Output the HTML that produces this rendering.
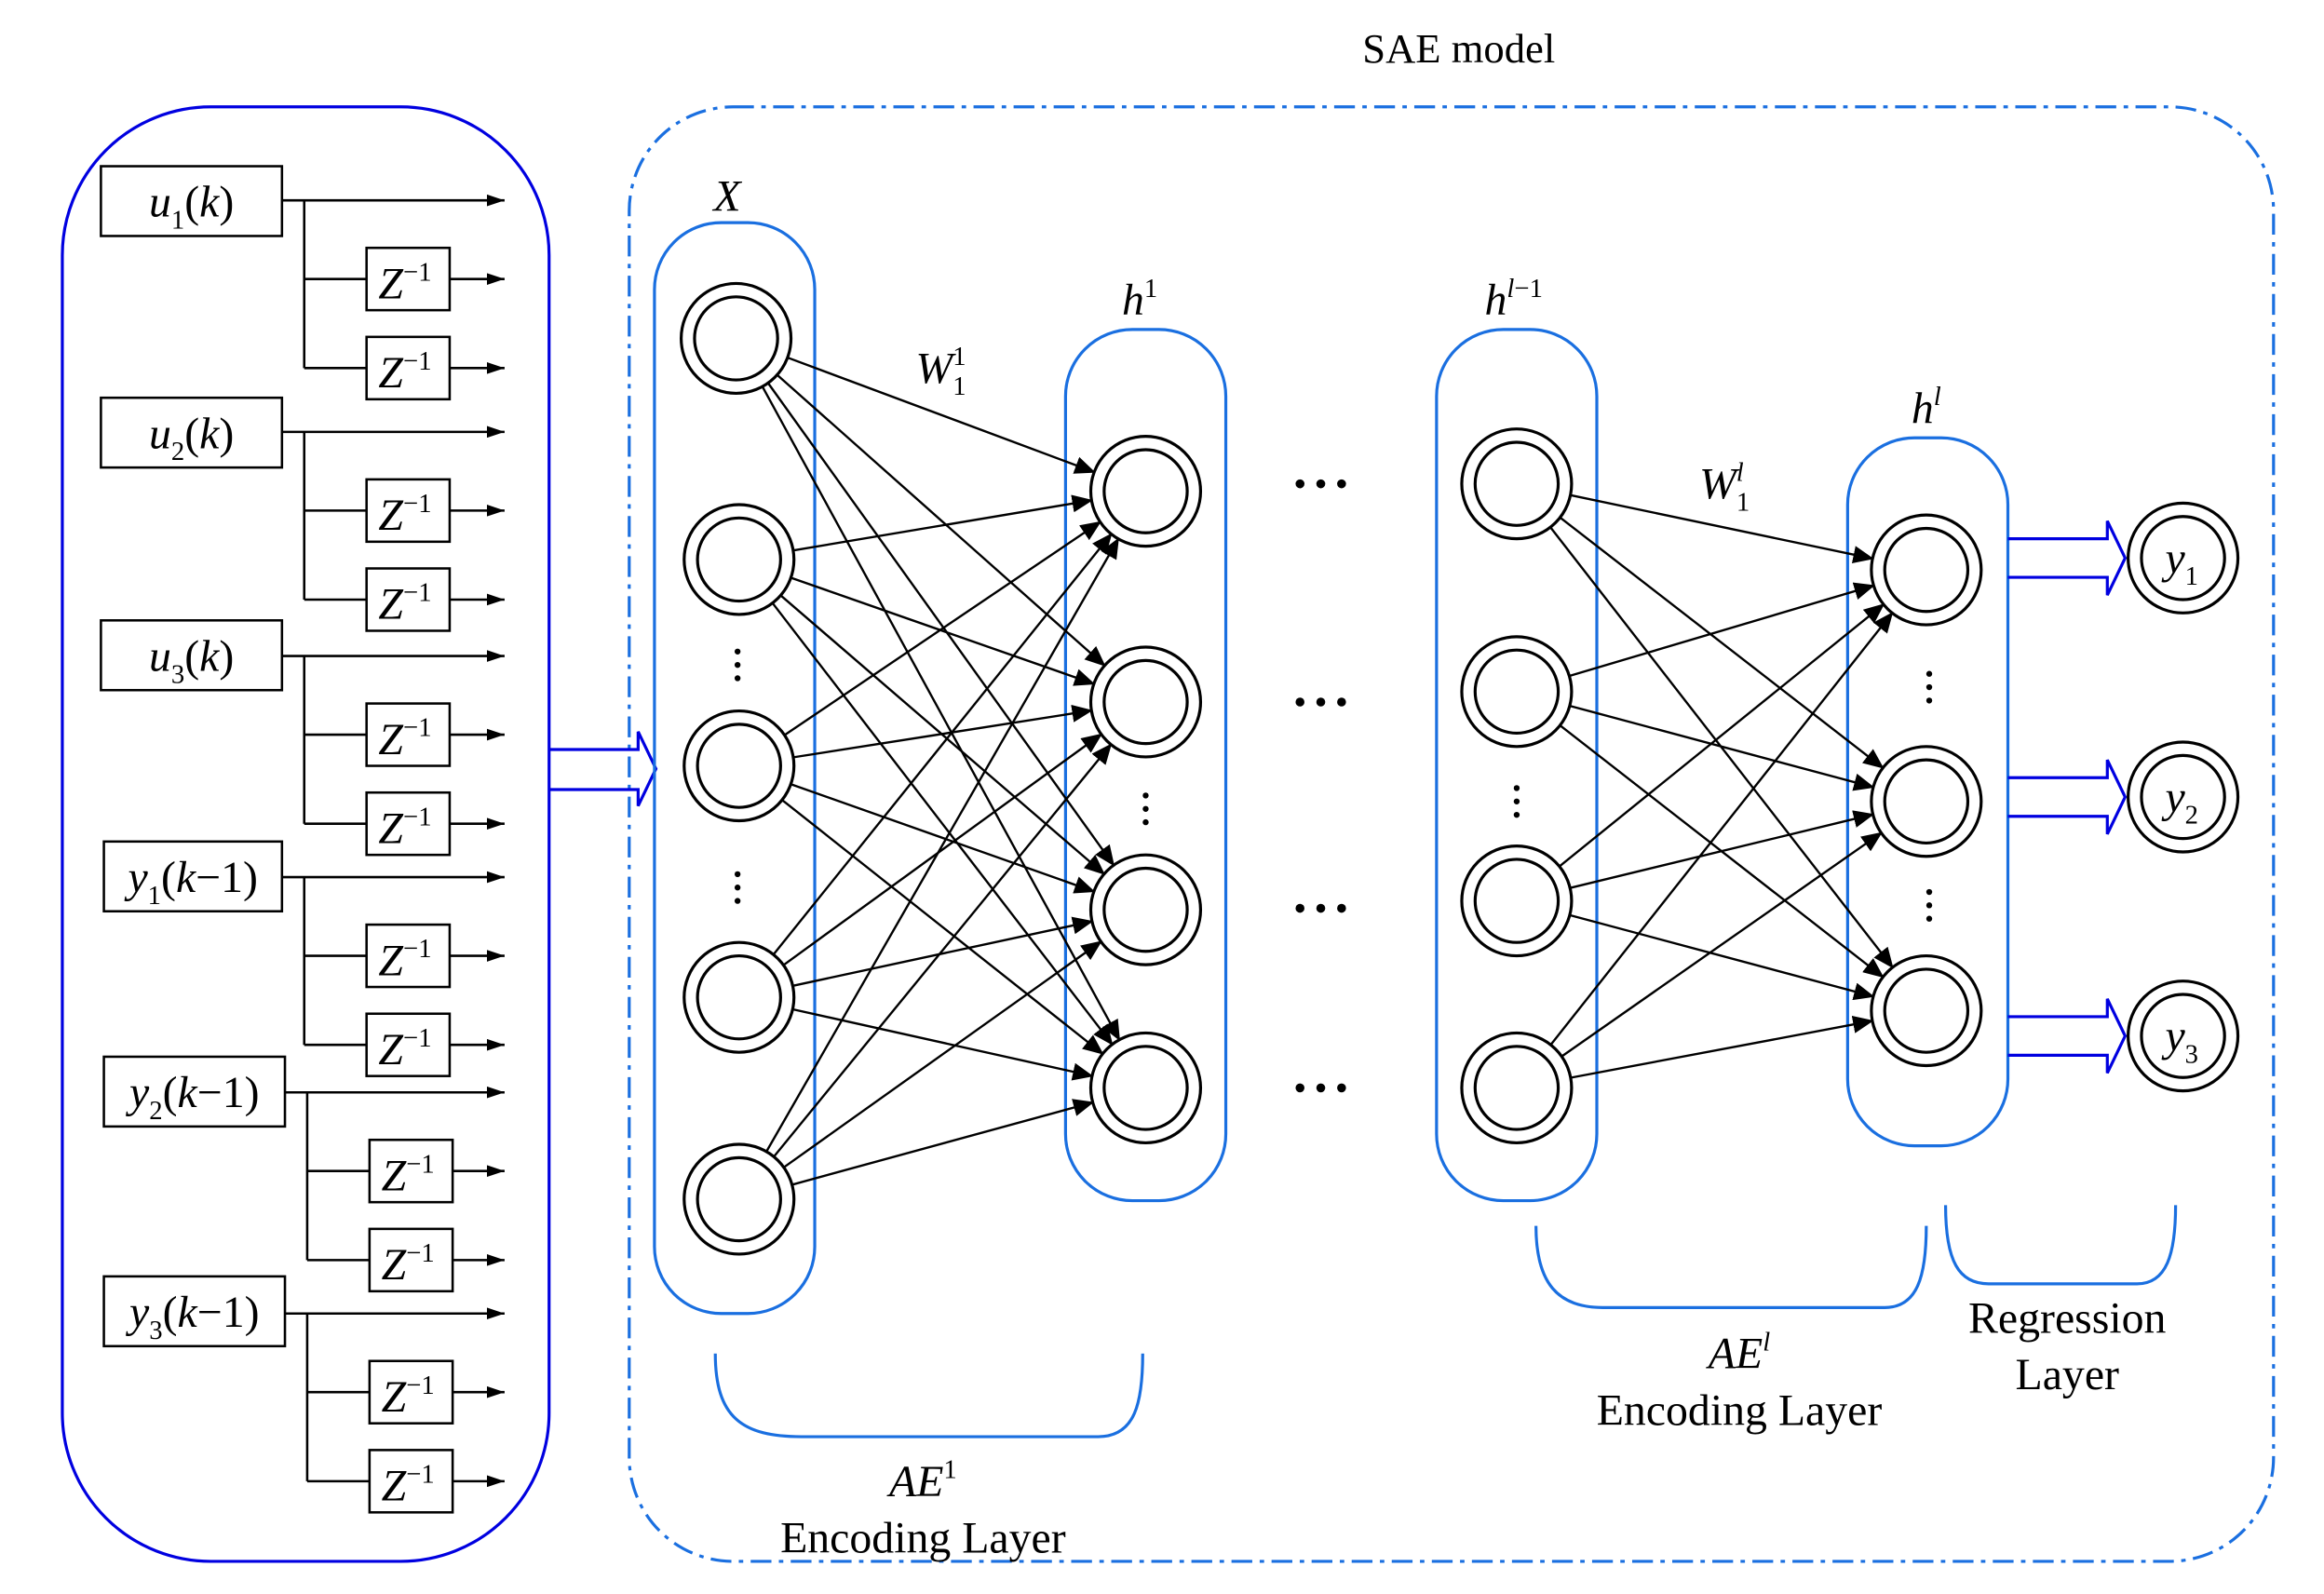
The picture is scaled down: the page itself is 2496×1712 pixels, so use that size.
<!DOCTYPE html>
<html><head><meta charset="utf-8"><style>
html,body{margin:0;padding:0;background:#fff;}
svg{display:block;}
text{font-family:"Liberation Serif",serif;fill:#000;}
</style></head><body>
<svg id="s" width="2496" height="1712" viewBox="0 0 1566 1074" preserveAspectRatio="none" xmlns="http://www.w3.org/2000/svg">
<defs>
<marker id="a" markerWidth="12" markerHeight="8" refX="12" refY="4" orient="auto" markerUnits="userSpaceOnUse"><path d="M0,0 L12,4 L0,8 Z" fill="#000"/></marker>
<marker id="b" markerWidth="14" markerHeight="12" refX="13" refY="6" orient="auto" markerUnits="userSpaceOnUse"><path d="M0,0 L14,6 L0,12 Z" fill="#000"/></marker>
</defs>
<rect x="0" y="0" width="1566" height="1074" fill="#fff"/>
<text x="983" y="42" font-size="28" text-anchor="middle">SAE model</text>
<rect x="42" y="72" width="328" height="980" rx="100" fill="none" stroke="#0000e0" stroke-width="2"/>
<g id="inputs" stroke="#000" stroke-width="1.6" fill="none"></g>
<rect x="424" y="72" width="1108" height="980" rx="70" fill="none" stroke="#1a6fe0" stroke-width="2" stroke-dasharray="14 5 3 5"/>
<path d="M370,505 L430,505 L430,493 L442,518 L430,543 L430,532 L370,532" fill="none" stroke="#0000e0" stroke-width="2"/>
<g fill="none" stroke="#1a6fe0" stroke-width="2">
<rect x="441" y="150" width="108" height="735" rx="45"/>
<rect x="718" y="222" width="108" height="587" rx="45"/>
<rect x="968" y="222" width="108" height="587" rx="45"/>
<rect x="1245" y="295" width="108" height="477" rx="45"/>
<path d="M482,912 C482,955 500,968 540,968 L740,968 C765,968 770,945 770,912"/>
<path d="M1035,826 C1035,865 1050,881 1080,881 L1270,881 C1292,881 1298,860 1298,826"/>
<path d="M1311,812 C1311,850 1320,865 1340,865 L1440,865 C1460,865 1466,845 1466,812"/>
</g>
<g fill="none" stroke="#0000e0" stroke-width="2">
<path d="M1353,363 L1420,363 L1420,351 L1432,376 L1420,401 L1420,389 L1353,389"/>
<path d="M1353,524 L1420,524 L1420,512 L1432,537 L1420,562 L1420,550 L1353,550"/>
<path d="M1353,685 L1420,685 L1420,673 L1432,698 L1420,723 L1420,711 L1353,711"/>
</g>
<g id="net" stroke="#000" stroke-width="1.5" fill="none"></g>
<g id="nodes" stroke="#000" stroke-width="2" fill="#fff"></g>
<g font-size="30" text-anchor="middle">
<text x="622" y="1046">Encoding Layer</text>
<text x="1172" y="960">Encoding Layer</text>
<text x="1393" y="898">Regression</text>
<text x="1393" y="936">Layer</text>
</g>
<g id="dots"></g>
<g id="ltext" font-size="30"></g>
<script>
var NS="http://www.w3.org/2000/svg";
function el(p,t,a){var e=document.createElementNS(NS,t);for(var k in a)e.setAttribute(k,a[k]);(typeof p=="string"?document.getElementById(p):p).appendChild(e);return e;}
// parts: [text, italic, small(0 none,1 sup,2 sub), dx]
function T(x,y,anchor,parts){
 var t=el('ltext','text',{x:x,y:y,'text-anchor':anchor});
 var cur=0;
 parts.forEach(function(p){
  var a={};
  if(p[1])a['font-style']='italic';
  var tgt=p[2]==1?-12:p[2]==2?8:0;
  if(tgt!=cur){a.dy=tgt-cur;cur=tgt;}
  if(p[2])a['font-size']=18;
  if(p[3])a.dx=p[3];
  var s=el(t,'tspan',a);s.textContent=p[0];
 });
}
var ins=[{y:112,x:68,w:122,v:'u',n:'1',m:false,ly:135,z:[188,248],bx:205,zx:247},
{y:268,x:68,w:122,v:'u',n:'2',m:false,ly:291,z:[344,404],bx:205,zx:247},
{y:418,x:68,w:122,v:'u',n:'3',m:false,ly:442,z:[495,555],bx:205,zx:247},
{y:567,x:70,w:120,v:'y',n:'1',m:true,ly:591,z:[644,704],bx:205,zx:247},
{y:712,x:70,w:122,v:'y',n:'2',m:true,ly:736,z:[789,849],bx:207,zx:249},
{y:860,x:70,w:122,v:'y',n:'3',m:true,ly:885,z:[938,998],bx:207,zx:249}];
ins.forEach(function(o){
 el('inputs','rect',{x:o.x,y:o.y,width:o.w,height:47});
 T(o.x+o.w/2,o.y+34,'middle',[[o.v,1,0],[o.n,0,2],['(',0,0],['k',1,0],[o.m?'−1)':')',0,0]]);
 el('inputs','line',{x1:o.x+o.w,y1:o.ly,x2:340,y2:o.ly,'marker-end':'url(#a)'});
 el('inputs','line',{x1:o.bx,y1:o.ly,x2:o.bx,y2:o.z[1]});
 o.z.forEach(function(zy){
  el('inputs','line',{x1:o.bx,y1:zy,x2:o.zx,y2:zy});
  el('inputs','rect',{x:o.zx,y:zy-21,width:56,height:42});
  el('inputs','line',{x1:o.zx+56,y1:zy,x2:340,y2:zy,'marker-end':'url(#a)'});
  T(o.zx+8,zy+13,'start',[['Z',1,0],['−1',0,1]]);
 });
});
T(490,142,'middle',[['X',1,0]]);
T(768,212,'middle',[['h',1,0],['1',0,1]]);
T(1020,212,'middle',[['h',1,0],['l',1,1],['−1',0,1]]);
T(1298,285,'middle',[['h',1,0],['l',1,1]]);
T(634,258,'middle',[['W',1,0],['1',0,1],['1',0,2,-9]]);
T(1162,336,'middle',[['W',1,0],['l',1,1],['1',0,2,-5]]);
T(622,1008,'middle',[['AE',1,0],['1',0,1]]);
T(1172,922,'middle',[['AE',1,0],['l',1,1]]);
var X=[[496,228],[498,377],[498,516],[498,672],[498,808]];
var H1=[[772,331],[772,473],[772,613],[772,733]];
var HL1=[[1022,326],[1022,466],[1022,607],[1022,733]];
var HL=[[1298,384],[1298,540],[1298,681]];
function conn(A,B){A.forEach(function(a){B.forEach(function(b){
 var dx=b[0]-a[0],dy=b[1]-a[1],d=Math.sqrt(dx*dx+dy*dy);
 el('net','line',{x1:a[0]+dx/d*37,y1:a[1]+dy/d*37,x2:b[0]-dx/d*37,y2:b[1]-dy/d*37,'marker-end':'url(#b)'});});});}
conn(X,H1);conn(HL1,HL);
function node(c){el('nodes','circle',{cx:c[0],cy:c[1],r:37});el('nodes','circle',{cx:c[0],cy:c[1],r:28});}
X.concat(H1,HL1,HL).forEach(node);
var Y=[[1471,376],[1471,537],[1471,698]];
Y.forEach(function(c,i){node(c);T(c[0]-12,c[1]+10,'start',[['y',1,0],[''+(i+1),0,2]]);});
[[497,448],[497,598],[772,545],[1022,540],[1300,463],[1300,610]].forEach(function(p){
 for(var i=-1;i<=1;i++)el('dots','circle',{cx:p[0],cy:p[1]+i*9,r:2,fill:'#000'});});
[326,473,612,733].forEach(function(y){for(var i=-1;i<=1;i++)el('dots','circle',{cx:890+i*14,cy:y,r:3,fill:'#000'});});
</script>
</svg>
</body></html>
